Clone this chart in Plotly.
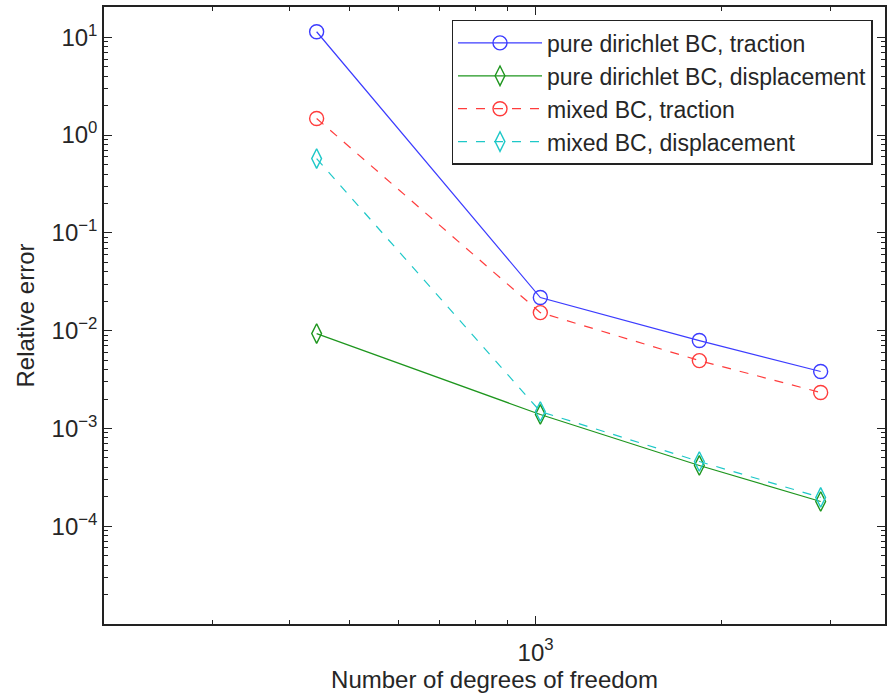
import numpy as np
import plotly.graph_objects as go

# Degrees of freedom for each mesh refinement level
dofs = [442, 1018, 1842, 2896]

# Relative errors for each boundary-condition setup
pure_traction = [11.4, 0.0218, 0.00792, 0.00382]
pure_displacement = [0.00933, 0.00139, 0.000418, 0.000179]
mixed_traction = [1.48, 0.0153, 0.00494, 0.00233]
mixed_displacement = [0.575, 0.00149, 0.000459, 0.000197]

series_names = [
    "pure dirichlet BC, traction",
    "pure dirichlet BC, displacement",
    "mixed BC, traction",
    "mixed BC, displacement",
]

# Axis tick labels
y_tick_vals = [1e-4, 1e-3, 1e-2, 1e-1, 1e0, 1e1]
y_tick_text = ["10<sup>−4</sup>", "10<sup>−3</sup>", "10<sup>−2</sup>",
               "10<sup>−1</sup>", "10<sup>0</sup>", "10<sup>1</sup>"]
x_tick_vals = [1e3]
x_tick_text = ["10<sup>3</sup>"]

FONT = "Liberation Sans, Arial, Helvetica, sans-serif"
TXT = "#262626"

styles = [
    dict(color="rgb(60,60,255)", dash="solid", symbol="circle-open", size=14),
    dict(color="rgb(30,150,30)", dash="solid", symbol="diamond-tall-open", size=14),
    dict(color="rgb(255,60,60)", dash="dash", symbol="circle-open", size=14),
    dict(color="rgb(30,200,200)", dash="dash", symbol="diamond-tall-open", size=14),
]
values = [pure_traction, pure_displacement, mixed_traction, mixed_displacement]

fig = go.Figure()
for name, ys, st in zip(series_names, values, styles):
    fig.add_trace(go.Scatter(
        x=dofs, y=ys, name=name, mode="lines+markers",
        line=dict(color=st["color"], width=1.2, dash=st["dash"]),
        marker=dict(symbol=st["symbol"], size=st["size"], color=st["color"],
                    line=dict(width=1.4, color=st["color"])),
    ))

# minor tick positions for log axes (2..9 within each decade)
y_minor = [m * 10.0 ** e for e in range(-5, 2) for m in range(2, 10)]
x_minor = [m * 10.0 ** e for e in range(2, 4) for m in range(2, 10)]

axis_common = dict(
    showgrid=False, zeroline=False, showline=True, linecolor="#222",
    linewidth=1.5, mirror="ticks", ticks="inside", ticklen=8, tickwidth=1,
    tickcolor="#222", tickfont=dict(family=FONT, size=24, color=TXT),
)

fig.update_xaxes(
    type="log", range=[np.log10(200), 3.566],
    tickmode="array", tickvals=x_tick_vals, ticktext=x_tick_text,
    ticklabelstandoff=6,
    minor=dict(tickmode="array", tickvals=x_minor, ticks="inside",
               ticklen=4, tickcolor="#222", showgrid=False),
    title=dict(text="Number of degrees of freedom",
               font=dict(family=FONT, size=24, color=TXT), standoff=2),
    **axis_common,
)
fig.update_yaxes(
    type="log", range=[-5, 1.31],
    tickmode="array", tickvals=y_tick_vals, ticktext=y_tick_text,
    minor=dict(tickmode="array", tickvals=y_minor, ticks="inside",
               ticklen=4, tickcolor="#222", showgrid=False),
    title=dict(text="Relative error",
               font=dict(family=FONT, size=24, color=TXT), standoff=10),
    **axis_common,
)

fig.update_layout(
    width=891, height=695,
    margin=dict(l=104, r=4, t=7, b=71),
    paper_bgcolor="white", plot_bgcolor="white",
    font=dict(family=FONT, size=23, color=TXT),
    showlegend=True,
    legend=dict(
        x=0.984, y=0.979, xanchor="right", yanchor="top",
        bgcolor="white", bordercolor="#222", borderwidth=1.5,
        font=dict(family=FONT, size=23, color=TXT),
        itemwidth=84, tracegroupgap=0,
    ),
)

fig.write_html("out.html")
